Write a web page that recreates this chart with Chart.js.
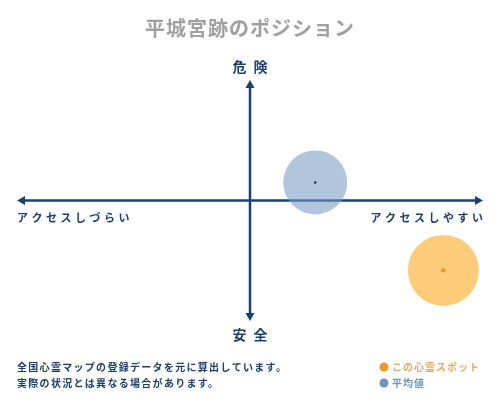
<!DOCTYPE html>
<html>
<head>
<meta charset="utf-8">
<script src="https://cdn.jsdelivr.net/npm/chart.js@4"></script>
<style>
  html, body { margin: 0; padding: 0; background: #fff; }
  #wrap { width: 500px; height: 400px; }
</style>
</head>
<body>
<div id="wrap"><canvas id="positionChart"></canvas></div>
<script>
// Chart data
const titleText = '平城宮跡のポジション';
const axisLabels = { top: '危険', bottom: '安全', left: 'アクセスしづらい', right: 'アクセスしやすい' };
const noteLines = ['全国心霊マップの登録データを元に算出しています。', '実際の状況とは異なる場合があります。'];
const seriesNames = ['この心霊スポット', '平均値'];
const spotPoint = [0.83, -0.58]; // x: access, y: danger
const avgPoint = [0.28, 0.15];

const NAVY = 'rgb(27, 64, 110)';
const FONT = '"Noto Sans CJK JP", "Noto Sans", sans-serif';

// draws axes arrows + all text around the plot
const quadrantPlugin = {
    id: 'quadrantPlugin',
    beforeDatasetsDraw: function(chart) {
        const ctx = chart.ctx;
        const area = chart.chartArea;
        const cx = chart.scales.x.getPixelForValue(0);
        const cy = chart.scales.y.getPixelForValue(0);

        ctx.save();
        ctx.strokeStyle = NAVY;
        ctx.fillStyle = NAVY;
        ctx.lineWidth = 2.5;

        // horizontal axis
        ctx.beginPath();
        ctx.moveTo(area.left + 6, cy);
        ctx.lineTo(area.right - 6, cy);
        ctx.stroke();
        // vertical axis
        ctx.beginPath();
        ctx.moveTo(cx, area.top + 6);
        ctx.lineTo(cx, area.bottom - 6);
        ctx.stroke();

        // arrow heads
        const head = (x1, y1, x2, y2, x3, y3) => {
            ctx.beginPath();
            ctx.moveTo(x1, y1);
            ctx.lineTo(x2, y2);
            ctx.lineTo(x3, y3);
            ctx.closePath();
            ctx.fill();
        };
        head(area.left, cy, area.left + 8, cy - 4.5, area.left + 8, cy + 4.5);
        head(area.right, cy, area.right - 8, cy - 4.5, area.right - 8, cy + 4.5);
        head(cx, area.top, cx - 4.5, area.top + 8, cx + 4.5, area.top + 8);
        head(cx, area.bottom, cx - 4.5, area.bottom - 8, cx + 4.5, area.bottom - 8);
        ctx.restore();
    },
    afterDraw: function(chart) {
        const ctx = chart.ctx;
        const area = chart.chartArea;
        const cx = chart.scales.x.getPixelForValue(0);
        const cy = chart.scales.y.getPixelForValue(0);

        ctx.save();
        ctx.textBaseline = 'middle';

        // title
        ctx.fillStyle = '#a0a0a0';
        ctx.font = 'bold 20px ' + FONT;
        ctx.letterSpacing = '1px';
        ctx.textAlign = 'center';
        ctx.fillText(titleText, 250, 28);

        // top / bottom labels
        ctx.fillStyle = NAVY;
        ctx.font = 'bold 14px ' + FONT;
        ctx.letterSpacing = '7px';
        ctx.textAlign = 'center';
        ctx.fillText(axisLabels.top, cx + 3.5, 67);
        ctx.fillText(axisLabels.bottom, cx + 3.5, 335);

        // left / right labels
        ctx.font = 'bold 11px ' + FONT;
        ctx.letterSpacing = '3.5px';
        ctx.textAlign = 'left';
        ctx.fillText(axisLabels.left, area.left, cy + 17);
        ctx.textAlign = 'right';
        ctx.fillText(axisLabels.right, area.right + 3.5, cy + 17);

        // footnote
        ctx.font = 'bold 10px ' + FONT;
        ctx.letterSpacing = '1.3px';
        ctx.textAlign = 'left';
        ctx.fillText(noteLines[0], 17, 367);
        ctx.fillText(noteLines[1], 17, 383);

        // legend
        ctx.letterSpacing = '1px';
        ctx.fillStyle = 'rgb(240, 150, 50)';
        ctx.beginPath();
        ctx.arc(384, 367, 4.5, 0, Math.PI * 2);
        ctx.fill();
        ctx.fillStyle = 'rgb(232, 170, 100)';
        ctx.fillText(seriesNames[0], 392, 367);

        ctx.fillStyle = 'rgb(110, 150, 190)';
        ctx.beginPath();
        ctx.arc(384, 383, 4.5, 0, Math.PI * 2);
        ctx.fill();
        ctx.fillStyle = 'rgb(110, 150, 190)';
        ctx.fillText(seriesNames[1], 392, 383);

        ctx.restore();
    }
};

const ctx = document.getElementById('positionChart').getContext('2d');
new Chart(ctx, {
    type: 'scatter',
    data: {
        datasets: [
            {
                label: seriesNames[1],
                data: [{ x: avgPoint[0], y: avgPoint[1] }],
                backgroundColor: 'rgba(120, 155, 195, 0.58)',
                borderWidth: 0,
                pointRadius: 32,
                order: 2
            },
            {
                label: seriesNames[1] + ' center',
                data: [{ x: avgPoint[0], y: avgPoint[1] }],
                backgroundColor: 'rgb(20, 40, 60)',
                borderWidth: 0,
                pointRadius: 1.2,
                order: 0
            },
            {
                label: seriesNames[0],
                data: [{ x: spotPoint[0], y: spotPoint[1] }],
                backgroundColor: 'rgba(253, 200, 110, 0.92)',
                borderWidth: 0,
                pointRadius: 35.5,
                order: 2
            },
            {
                label: seriesNames[0] + ' center',
                data: [{ x: spotPoint[0], y: spotPoint[1] }],
                backgroundColor: 'rgb(240, 150, 20)',
                borderWidth: 0,
                pointRadius: 2.2,
                order: 0
            }
        ]
    },
    options: {
        responsive: true,
        maintainAspectRatio: false,
        animation: false,
        layout: {
            autoPadding: false,
            padding: { left: 17, right: 17, top: 80, bottom: 79 }
        },
        scales: {
            x: { display: false, min: -1, max: 1 },
            y: { display: false, min: -1, max: 1 }
        },
        plugins: {
            legend: { display: false },
            tooltip: { enabled: false }
        }
    },
    plugins: [quadrantPlugin]
});
</script>
</body>
</html>
